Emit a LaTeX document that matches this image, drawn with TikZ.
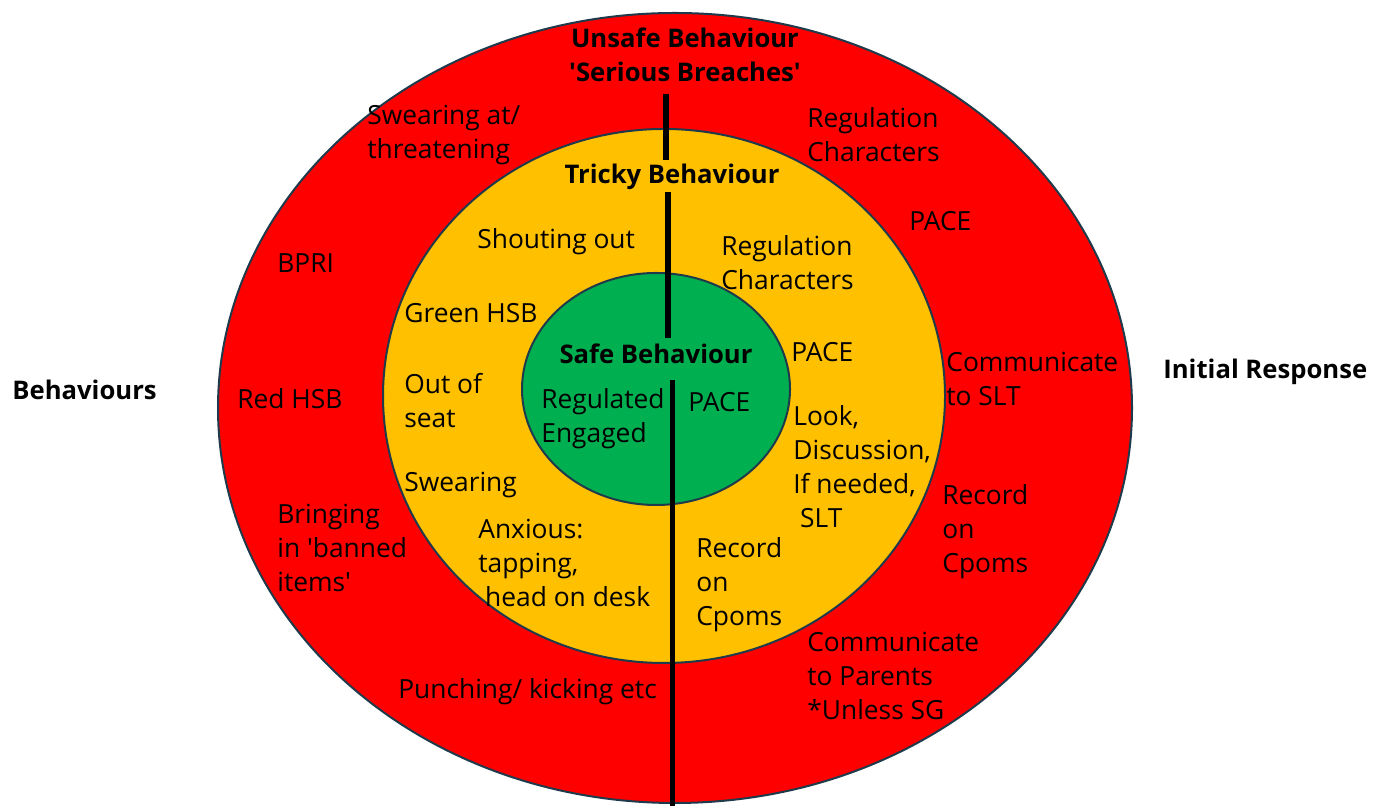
\documentclass[tikz,border=0pt]{standalone}
\usepackage{fontspec}
\setmainfont{Open Sans}[Ligatures=TeXOff]
\definecolor{ringedge}{HTML}{1F3A4B}
\definecolor{unsafered}{HTML}{FF0000}
\definecolor{trickyamber}{HTML}{FFC000}
\definecolor{safegreen}{HTML}{00B050}
\begin{document}
\begin{tikzpicture}[
    ring/.style={draw=ringedge, line width=0.04cm},
    divider/.style={line width=0.12cm, black},
    item/.style={anchor=north west, inner sep=0pt, align=left,
      font=\fontsize{15}{19.4}\selectfont},
    heading/.style={inner sep=0pt, align=center,
      font=\fontsize{14.6}{19.4}\selectfont\bfseries}]
                \useasboundingbox (0,0) rectangle (27.46,16.12);
                
                % Drawing ring Unsafe
                \filldraw [ring, fill=unsafered] (13.500000,7.960000) ellipse [x radius=9.14, y radius=7.90];%
                
                % Drawing ring Tricky
                \filldraw [ring, fill=trickyamber] (13.280000,8.200000) ellipse [x radius=5.62, y radius=5.34];%
                
                % Drawing ring Safe
                \filldraw [ring, fill=safegreen] (13.120000,8.340000) ellipse [x radius=2.68, y radius=2.32];%
                
                % Drawing divider top
                \draw [divider] (13.320000,14.240000) -- (13.320000,12.920000);%
                \draw [divider] (13.360000,12.280000) -- (13.360000,9.360000);%
                
                % Drawing divider bottom
                \draw [divider, line width=0.10cm] (13.440000,8.520000) -- (13.440000,0.000000);%
                
                % Headings
                \node [heading] (unsafe) at (13.700000,15.020000) {Unsafe Behaviour\\'Serious Breaches'};%
                \node [heading] (tricky) at (13.440000,12.580000) {Tricky Behaviour};%
                \node [heading] (safe) at (13.120000,9.040000) {Safe Behaviour};%
                \node [heading, anchor=west] (behaviours) at (0.240000,8.320000) {Behaviours};%
                \node [heading, anchor=west] (initial) at (23.260000,8.680000) {Initial Response};%
                
                % Behaviours in red ring
                \node [item] (swearat) at (7.340000,14.020000) {Swearing at/\\threatening};%
                \node [item] (bpri) at (5.540000,11.060000) {BPRI};%
                \node [item] (redhsb) at (4.740000,8.360000) {Red HSB};%
                \node [item] (bringing) at (5.540000,6.040000) {Bringing\\in 'banned\\items'};%
                \node [item] (punching) at (7.960000,2.560000) {Punching/ kicking etc};%
                
                % Behaviours in amber ring
                \node [item] (shouting) at (9.540000,11.560000) {Shouting out};%
                \node [item] (greenhsb) at (8.080000,10.060000) {Green HSB};%
                \node [item] (outofseat) at (8.080000,8.660000) {Out of\\seat};%
                \node [item] (swearing) at (8.080000,6.680000) {Swearing};%
                \node [item] (anxious) at (9.560000,5.740000) {Anxious:\\tapping,\\\ head on desk};%
                
                % Safe ring
                \node [item] (regulated) at (10.820000,8.360000) {Regulated\\Engaged};%
                \node [item] (pacesafe) at (13.760000,8.280000) {PACE};%
                
                % Responses in amber ring
                \node [item] (regcharamber) at (14.420000,11.420000) {Regulation\\Characters};%
                \node [item] (paceamber) at (15.820000,9.280000) {PACE};%
                \node [item] (look) at (15.860000,8.020000) {Look,\\Discussion,\\If needed,\\\ SLT};%
                \node [item] (recordamber) at (13.920000,5.380000) {Record\\on\\Cpoms};%
                
                % Responses in red ring
                \node [item] (regcharred) at (16.140000,13.980000) {Regulation\\Characters};%
                \node [item] (pacered) at (18.180000,11.900000) {PACE};%
                \node [item] (commslt) at (18.920000,9.080000) {Communicate\\to SLT};%
                \node [item] (recordred) at (18.840000,6.440000) {Record\\on\\Cpoms};%
                \node [item] (commparents) at (16.140000,3.480000) {Communicate\\to Parents\\*Unless SG};%
\end{tikzpicture}
\end{document}
